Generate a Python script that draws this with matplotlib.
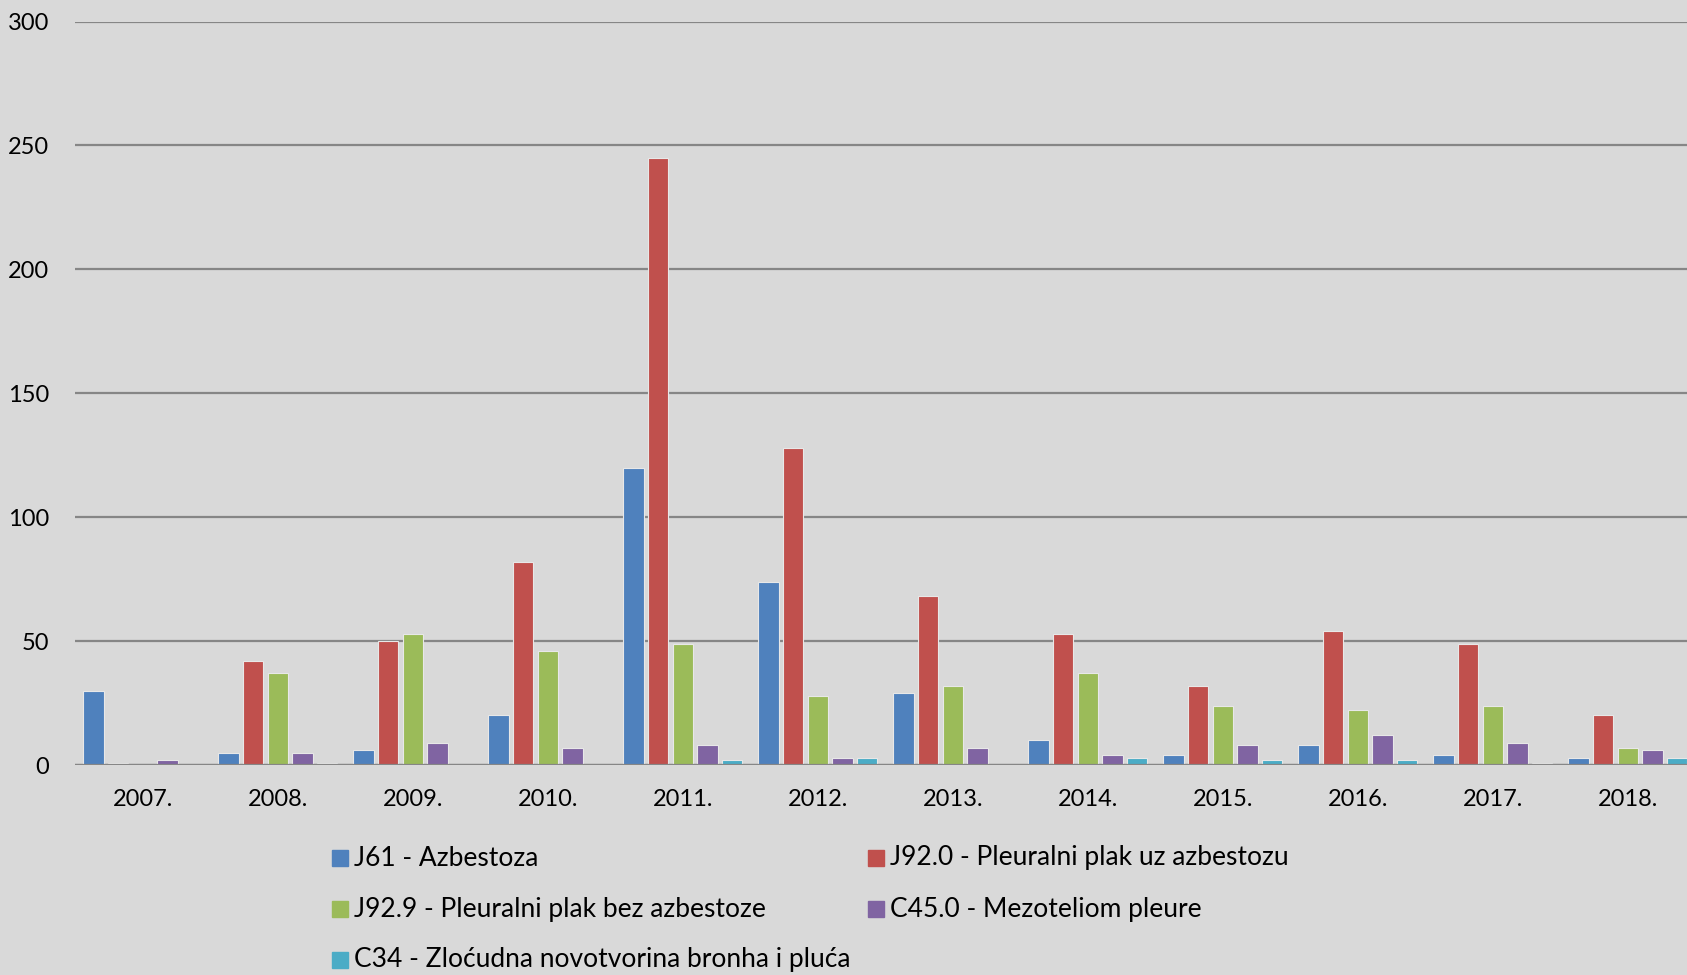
import matplotlib
matplotlib.use("Agg")
import matplotlib.pyplot as plt
import numpy as np
from matplotlib.patches import Rectangle

years = ["2007.", "2008.", "2009.", "2010.", "2011.", "2012.", "2013.", "2014.", "2015.", "2016.", "2017.", "2018."]
j61 = [30, 5, 6, 20, 120, 74, 29, 10, 4, 8, 4, 3]
j920 = [1, 42, 50, 82, 245, 128, 68, 53, 32, 54, 49, 20]
j929 = [0, 37, 53, 46, 49, 28, 32, 37, 24, 22, 24, 7]
c450 = [2, 5, 9, 7, 8, 3, 7, 4, 8, 12, 9, 6]
c34 = [0, 1, 0, 0, 2, 3, 0, 3, 2, 2, 1, 3]
series_names = ["J61 - Azbestoza", "J92.0 - Pleuralni plak uz azbestozu",
                "J92.9 - Pleuralni plak bez azbestoze", "C45.0 - Mezoteliom pleure",
                "C34 - Zloćudna novotvorina bronha i pluća"]
colors = ["#4F81BD", "#C0504D", "#9BBB59", "#8064A2", "#4BACC6"]
yticks = [0, 50, 100, 150, 200, 250, 300]

plt.rcParams['font.family'] = ['Lato', 'DejaVu Sans']
bg = "#D9D9D9"
fig = plt.figure(figsize=(16.87, 9.75), dpi=100, facecolor=bg)
ax = fig.add_axes([75.3/1687, 210/975, 1620/1687, 743.5/975])
ax.set_facecolor(bg)

x = np.arange(len(years))
slot = 0.1833
width = 0.151
data = [j61, j920, j929, c450, c34]
for i, (vals, c) in enumerate(zip(data, colors)):
    ax.bar(x + (i - 2) * slot, vals, width=width, color=c, edgecolor="#E8E8E8",
           linewidth=0.8, zorder=3)

ax.set_xlim(-0.5, len(years) - 0.5)
ax.set_ylim(0, 300)
ax.set_yticks(yticks)
ax.set_yticklabels([str(t) for t in yticks])
ax.set_xticks(x)
ax.set_xticklabels(years)
ax.yaxis.grid(True, color="#868686", linewidth=1.6, zorder=0)
ax.set_axisbelow(True)
for s in ax.spines.values():
    s.set_visible(False)
ax.axhline(0, color="#868686", linewidth=1.6, zorder=4)
ax.tick_params(axis='both', length=0, labelsize=17, colors="black")
ax.tick_params(axis='x', pad=17)
ax.tick_params(axis='y', pad=19)
for lab in ax.get_yticklabels():
    lab.set_horizontalalignment('right')

# legend
pos = [(340, 858), (876, 858), (340, 909), (876, 909), (340, 960)]
for (px, py), name, c in zip(pos, series_names, colors):
    fig.patches.append(Rectangle(((px - 8) / 1687, 1 - (py + 8) / 975), 16 / 1687, 16 / 975,
                                 transform=fig.transFigure, color=c, figure=fig))
    fig.text((px + 14) / 1687, 1 - py / 975, name, fontsize=19, va='center', ha='left')

fig.savefig("out.png", dpi=100, facecolor=bg)
